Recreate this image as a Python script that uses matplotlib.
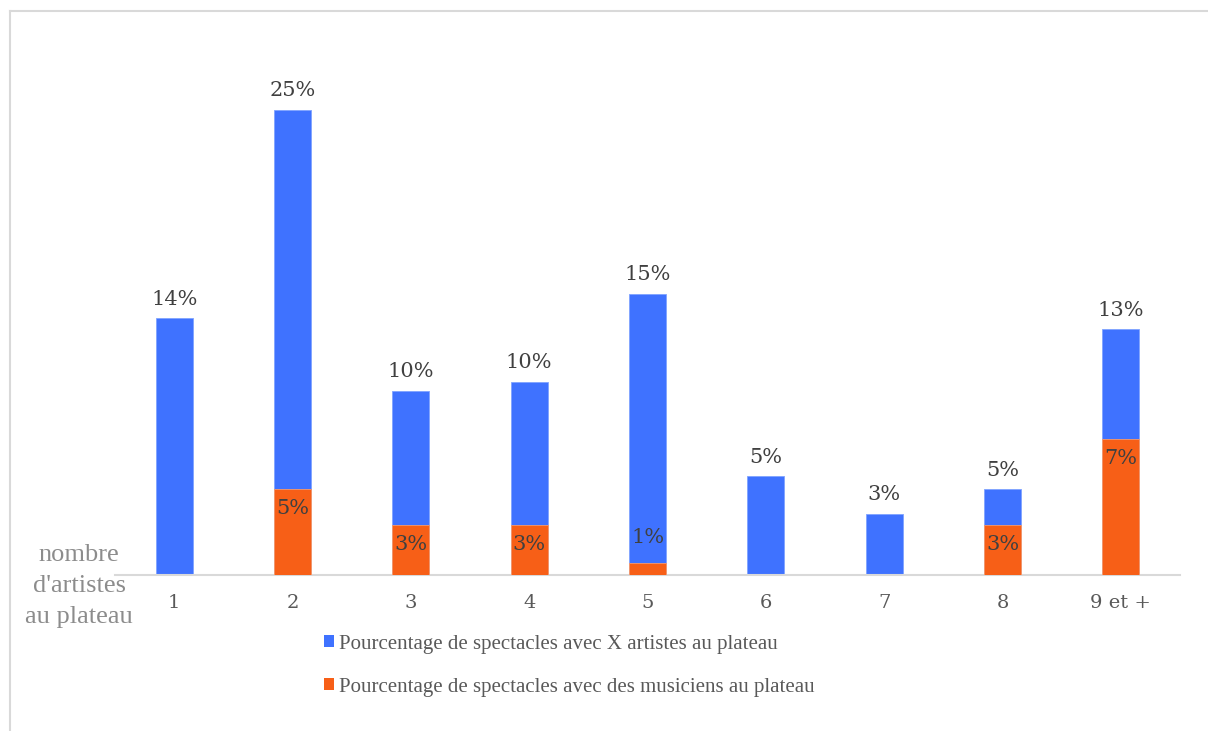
import matplotlib
matplotlib.use("Agg")
import matplotlib.pyplot as plt
from matplotlib.lines import Line2D
from matplotlib.patches import Patch

categories = ["1", "2", "3", "4", "5", "6", "7", "8", "9 et +"]
artistes = [13.8, 25.0, 9.9, 10.4, 15.1, 5.3, 3.3, 4.6, 13.2]
musiciens = [None, 4.6, 2.7, 2.7, 0.65, None, None, 2.7, 7.3]
legend_labels = ["Pourcentage de spectacles avec X artistes au plateau",
                 "Pourcentage de spectacles avec des musiciens au plateau"]
axis_title = "nombre\nd'artistes\nau plateau"

BLUE = "#3F72FF"
ORANGE = "#F75F17"
FONT = "DejaVu Serif"
FONT2 = "Liberation Serif"

plt.rcParams["font.family"] = [FONT, "DejaVu Sans"]

W, H = 1208, 731
fig = plt.figure(figsize=(W / 100, H / 100), dpi=100)
fig.patch.set_facecolor("white")

ax_left, ax_right, ax_bottom_px, ax_top_px = 115, 1180, 575, 54
ax = fig.add_axes([ax_left / W, 1 - ax_bottom_px / H,
                   (ax_right - ax_left) / W, (ax_bottom_px - ax_top_px) / H])

x = list(range(len(categories)))
bw = 0.315
ax.bar(x, artistes, width=bw, color=BLUE, edgecolor="#7FA3FF", linewidth=0.6, zorder=2)
mx = [i for i, v in enumerate(musiciens) if v is not None]
mv = [musiciens[i] for i in mx]
ax.bar(mx, mv, width=bw, color=ORANGE, edgecolor="#F99A6A", linewidth=0.6, zorder=3)

for i, v in enumerate(artistes):
    ax.annotate(f"{v:.0f}%", (i, v), xytext=(0, 7), textcoords="offset points",
                ha="center", va="bottom", fontsize=15, color="#404040")
for i, v in zip(mx, mv):
    off = -14 if v >= 2 else 18
    ax.annotate(f"{v:.0f}%", (i, v), xytext=(0, off), textcoords="offset points",
                ha="center", va="center", fontsize=15, color="#404040", zorder=4)

ax.set_xlim(-0.5, len(categories) - 0.5)
ax.set_ylim(0, (ax_bottom_px - ax_top_px) / 18.6)
ax.set_xticks(x)
ax.set_xticklabels(categories, fontsize=14, color="#595959")
ax.tick_params(axis="x", length=0, pad=14)
ax.set_yticks([])
for s in ["top", "right", "left"]:
    ax.spines[s].set_visible(False)
ax.spines["bottom"].set_color("#D9D9D9")
ax.spines["bottom"].set_linewidth(1.5)

fig.text(79 / W, 1 - 586 / H, axis_title, ha="center", va="center",
         fontsize=19, color="#8C8C8C", linespacing=1.55, family=FONT2)

handles = [Patch(facecolor=BLUE, edgecolor="none"), Patch(facecolor=ORANGE, edgecolor="none")]
leg = fig.legend(handles, legend_labels, loc="upper left",
                 bbox_to_anchor=(305 / W, 1 - 616 / H), frameon=False,
                 prop={"family": FONT2, "size": 15}, handlelength=0.5, handleheight=0.5,
                 handletextpad=0.25, labelspacing=1.15, labelcolor="#595959")

# border of the chart area
fig.add_artist(Line2D([9.5 / W, 1207 / W], [1 - 11 / H, 1 - 11 / H], color="#D9D9D9", lw=1.5))
fig.add_artist(Line2D([9.5 / W, 9.5 / W], [1 - 11 / H, 0], color="#D9D9D9", lw=1.5))

fig.savefig("out.png", dpi=100, facecolor="white")
